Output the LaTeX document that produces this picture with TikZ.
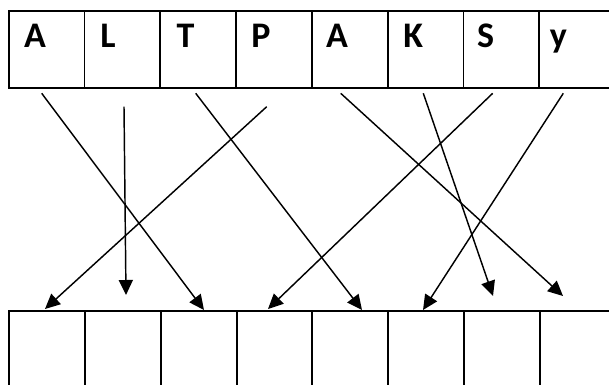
\documentclass[tikz,border=0pt]{standalone}
\usepackage{fontspec}
\setmainfont{Carlito}
\usetikzlibrary{arrows.meta,calc}
\begin{document}
\begin{tikzpicture}[x=1pt,y=-1pt,
  cell/.style={draw,line width=1.9pt,minimum width=75.8pt,minimum height=77pt,inner sep=0pt},
  letter/.style={font=\fontsize{36}{40}\selectfont\bfseries,anchor=base,inner sep=0pt},
  arr/.style={line width=1.45pt,-{Triangle[length=15pt,width=14pt]}}]
\useasboundingbox (0,0) rectangle (609,384);
\clip (0,0) rectangle (609,384);
% top row
\foreach \i in {1,...,8}{
  \node[cell] (t\i) at ({8.7+75.8*(\i-0.5)},49.5) {};
  \node[cell] (b\i) at ({9.2+75.8*(\i-0.5)},349.5) {};
}
\node[letter] (lA) at (35,47) {A};
\node[letter] (lL) at (108,47) {L};
\node[letter] (lT) at (185.5,47) {T};
\node[letter] (lP) at (261,47) {P};
\node[letter] (lA2) at (337,47) {A};
\node[letter] (lK) at (413.3,47) {K};
\node[letter] (lS) at (485.7,47) {S};
\node[letter] (ly) at (558.3,47) {y};
% arrow ends
\coordinate (s1) at (41.7,93.3);  \coordinate (e1) at (204,310);
\coordinate (s2) at (124,106.7);  \coordinate (e2) at (126,295);
\coordinate (s3) at (195.7,93.3); \coordinate (e3) at (362,310);
\coordinate (s4) at (266.7,106.7);\coordinate (e4) at (45,309);
\coordinate (s5) at (340.7,93.3); \coordinate (e5) at (563,296);
\coordinate (s6) at (423.3,93.3); \coordinate (e6) at (493,296);
\coordinate (s7) at (492.7,93.3); \coordinate (e7) at (268,309);
\coordinate (s8) at (563.3,93.3); \coordinate (e8) at (423,310);
\foreach \k in {1,...,8}{ \draw[arr] (s\k) -- (e\k); }
\end{tikzpicture}
\end{document}
